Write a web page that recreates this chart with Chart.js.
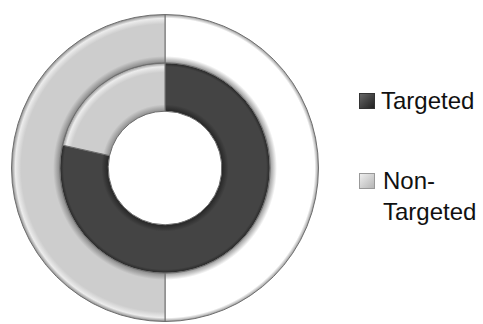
<!DOCTYPE html>
<html>
<head>
<meta charset="utf-8">
<script src="https://cdn.jsdelivr.net/npm/chart.js@4.4.1/dist/chart.umd.min.js"></script>
<style>
  html, body { margin: 0; padding: 0; background: #fff; }
  #wrap { position: relative; width: 483px; height: 324px; overflow: hidden; }
  #box { position: absolute; left: 0; top: 0; width: 330px; height: 324px; }
  .leg { position: absolute; font-family: "Liberation Sans", Arial, sans-serif; font-size: 24px; color: #111; line-height: 31px; }
  .sq { position: absolute; width: 14px; height: 14px; }
</style>
</head>
<body>
<div id="wrap">
  <div id="box"><canvas id="chartAnillos"></canvas></div>
  <div class="sq" id="sq0" style="left:359px; top:93px;"></div>
  <div class="leg" id="lab0" style="left:381px; top:85px;"></div>
  <div class="sq" id="sq1" style="left:359px; top:173px;"></div>
  <div class="leg" id="lab1" style="left:383px; top:165px;"></div>
</div>
<script>
// datos de la grafica
const categorias = ['Targeted', 'Non-Targeted'];
const anilloExterno = [50, 50];
const anilloInterno = [78.5, 21.5];

const colorOscuro = '#444444';
const colorClaro = '#cdcdcd';
const corte = 0.37;

// colores base y de borde por anillo (0 = externo, 1 = interno)
const basesAnillo = [['#ffffff', colorClaro], [colorOscuro, colorClaro]];
const bordesAnillo = [['#9a9a9a', '#8a8a8a'], ['#262626', '#8f8f8f']];

// relleno con degradado para simular el bisel de cada anillo
const rellenoAnillo = (ctx) => {
    const anillo = ctx.datasetIndex;
    const base = basesAnillo[anillo][ctx.dataIndex];
    const borde = bordesAnillo[anillo][ctx.dataIndex];
    const chart = ctx.chart;
    const area = chart.chartArea;
    if (!area) return base;
    const cx = (area.left + area.right) / 2;
    const cy = (area.top + area.bottom) / 2;
    const R = (Math.min(area.width, area.height) - 1) / 2;
    const r0 = R * corte;
    const w = (R - r0) / 2;
    const rIn = anillo === 0 ? r0 + w : r0;
    const rOut = rIn + w;
    const g = chart.ctx.createRadialGradient(cx, cy, rIn, cx, cy, rOut);
    g.addColorStop(0, borde);
    g.addColorStop(0.14, base);
    g.addColorStop(0.80, base);
    g.addColorStop(0.92, base === colorClaro ? '#ececec' : base);
    g.addColorStop(1, borde);
    return g;
};

const canvas = document.getElementById('chartAnillos');
const context = canvas.getContext('2d');

const chartAnillos = new Chart(context, {
    type: 'doughnut',
    data: {
        labels: categorias,
        datasets: [{
            data: anilloExterno,
            backgroundColor: rellenoAnillo,
            borderColor: '#6e6e6e',
            borderWidth: 1
        }, {
            data: anilloInterno,
            backgroundColor: rellenoAnillo,
            borderColor: '#6e6e6e',
            borderWidth: 1
        }]
    },
    options: {
        responsive: true,
        maintainAspectRatio: false,
        animation: false,
        cutout: (corte * 100) + '%',
        layout: { padding: { left: 11, right: 11, top: 14, bottom: 2 } },
        plugins: {
            legend: { display: false },
            tooltip: { enabled: false }
        }
    }
});

// leyenda a la derecha
document.getElementById('sq0').style.background = 'linear-gradient(135deg, #666, #222)';
document.getElementById('sq0').style.border = '1px solid #333';
document.getElementById('sq1').style.background = 'linear-gradient(135deg, #eee, #b5b5b5)';
document.getElementById('sq1').style.border = '1px solid #999';
document.getElementById('lab0').textContent = categorias[0];
document.getElementById('lab1').innerHTML = 'Non-<br>Targeted';
</script>
</body>
</html>
